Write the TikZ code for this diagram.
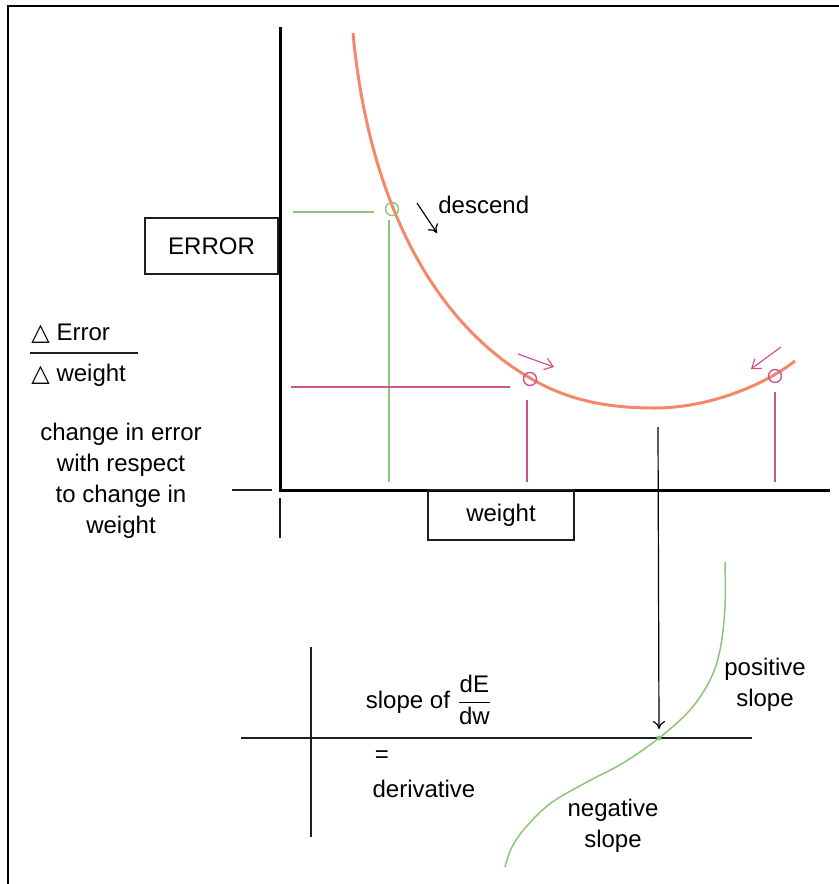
\documentclass[tikz,border=0pt]{standalone}
\usepackage{amsmath}
\usepackage{fontspec}
\setmainfont{Liberation Sans}
\newfontfamily\symfont{DejaVu Sans}
\usetikzlibrary{arrows.meta, positioning, calc}
\definecolor{corange}{HTML}{F5876A}
\definecolor{cgreen}{HTML}{8DC47B}
\definecolor{cpink}{HTML}{CC5490}
\definecolor{cgrey}{HTML}{1E1E1E}
\tikzset{
  every picture/.style={font=\fontsize{12}{15.5}\selectfont},
  axis/.style={draw=black, line width=1.5pt},
  hair/.style={draw=cgrey, line width=0.6pt},
  guide/.style={draw=#1, line width=0.6pt},
  labelbox/.style={draw=cgrey, line width=0.6pt, minimum width=#1, minimum height=28pt, inner sep=0pt},
  ring/.style={circle, draw=#1, line width=0.7pt, minimum size=6.5pt, inner sep=0pt},
  dot/.style={circle, fill=cgreen, minimum size=2.5pt, inner sep=0pt},
  arrow/.style={-{To[length=4pt, width=6pt]}, draw=black, line width=0.6pt},
  pinkarrow/.style={-{Straight Barb[length=4pt, width=6pt]}, draw=cpink, line width=0.6pt},
  curve/.style={draw=corange, line width=1.5pt},
  scurve/.style={draw=cgreen, line width=0.75pt},
  txt/.style={align=center, inner sep=0pt},
}
\begin{document}
\begin{tikzpicture}[x=0.5pt, y=-0.5pt]
  \useasboundingbox (0,0) rectangle (839,884);
  % frame
  \draw[line width=1.4pt] (8,884) -- (8,6) -- (839,6);
  % axes
  \coordinate (ytop) at (280,27);
  \coordinate (origin) at (280,490);
  \coordinate (xend) at (830,490);
  \draw[axis] (ytop) -- (origin) -- (xend);
  \draw[hair] (232,490) -- (272,490);
  \draw[hair] (280,498) -- (280,538);
  \node[labelbox=66.5pt] (errbox) at (211.5,246) {ERROR};
  \node[labelbox=73pt, minimum height=25pt] (wbox) at (501,515) {weight};
  % error curve
  \draw[curve] (353,33) .. controls (368,195) and (430,320) .. (530,378)
    .. controls (572,403) and (615,408) .. (655,408)
    .. controls (705,408) and (760,388) .. (795,361);
  % points on the curve
  \node[ring=cgreen] (p1) at (392,209) {};
  \node[ring=cpink] (p2) at (530,379) {};
  \node[ring=cpink] (p3) at (775,376) {};
  \draw[guide=cgreen] (293,212) -- (374,212);
  \draw[guide=cgreen] (389,220) -- (389,482);
  \draw[guide=cpink] (291,387) -- (510,387);
  \draw[guide=cpink] (527,400) -- (527,482);
  \draw[guide=cpink] (775,392) -- (775,482);
  % descend
  \node[txt, anchor=west] (desc) at (438,205) {descend};
  \coordinate (d0) at (417,203);
  \coordinate (d1) at (437,233);
  \draw[arrow] (d0) -- (d1);
  \coordinate (a0) at (518,354);
  \coordinate (a1) at (554,367);
  \draw[pinkarrow] (a0) -- (a1);
  \coordinate (b0) at (781,347);
  \coordinate (b1) at (751,369);
  \draw[pinkarrow] (b0) -- (b1);
  % left labels
  \node[txt, anchor=west] (derr) at (31,334) {{\symfont △} Error};
  \node[txt, anchor=west] (dw) at (31,375) {{\symfont △} weight};
  \coordinate (f0) at (30,353);
  \coordinate (f1) at (138,353);
  \draw[hair] (f0) -- (f1);
  \node[txt] (change) at (121,481) {change in error\\with respect\\to change in\\weight};
  % derivative
  \coordinate (vtop) at (311,647);
  \coordinate (vbot) at (311,837);
  \coordinate (hl) at (241,738);
  \coordinate (hr) at (752,738);
  \draw[hair] (vtop) -- (vbot);
  \draw[hair] (hl) -- (hr);
  \draw[scurve] plot[smooth, tension=0.6] coordinates {(725,562) (725,607) (720,650) (710,680) (690,710) (659,738) (623,763) (587,782) (551,803) (526,827) (512,847) (505,867)};
  \node[dot] (zero) at (659,738) {};
  \coordinate (m0) at (658,427);
  \draw[arrow] (m0) -- ($(zero)+(0,-9)$);
  \node[txt] (slope) at (429,700) {slope of $\dfrac{\text{dE}}{\text{dw}}$};
  \node[txt] (eq) at (382,757) {=};
  \node[txt] (deriv) at (424,789) {derivative};
  \node[txt] (neg) at (613,826) {negative\\slope};
  \node[txt] (pos) at (765,685) {positive\\slope};
\end{tikzpicture}
\end{document}
